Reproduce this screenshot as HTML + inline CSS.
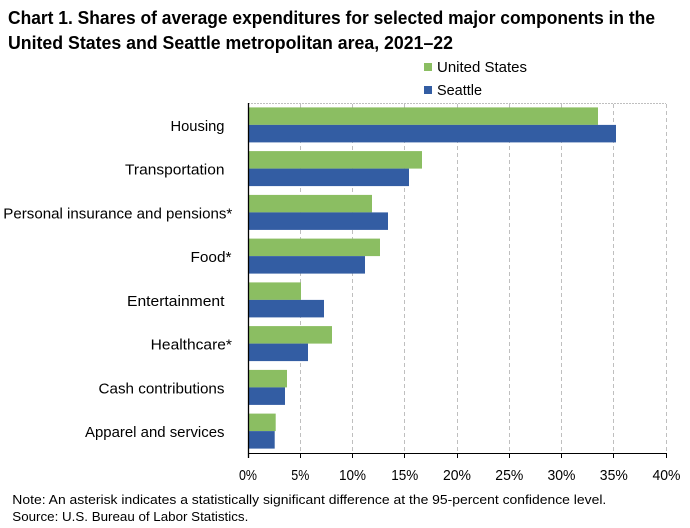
<!DOCTYPE html>
<html>
<head>
<meta charset="utf-8">
<style>
html,body{margin:0;padding:0;background:#fff;}
svg{display:block;}
text{font-family:"Liberation Sans",sans-serif;fill:#000;}
</style>
</head>
<body>
<svg width="690" height="528" viewBox="0 0 690 528" xmlns="http://www.w3.org/2000/svg">
<rect width="690" height="528" fill="#fff"/>
<!-- Title -->
<text x="8" y="24" font-size="18" font-weight="bold" textLength="647" lengthAdjust="spacingAndGlyphs">Chart 1. Shares of average expenditures for selected major components in the</text>
<text x="8" y="49" font-size="18" font-weight="bold" textLength="445" lengthAdjust="spacingAndGlyphs">United States and Seattle metropolitan area, 2021–22</text>
<!-- Legend -->
<rect x="424" y="63" width="8" height="8" fill="#8BBE62"/>
<text x="437" y="72" font-size="14.5" textLength="90" lengthAdjust="spacingAndGlyphs">United States</text>
<rect x="424" y="86" width="8" height="8" fill="#335DA3"/>
<text x="437" y="95" font-size="14.5" textLength="45" lengthAdjust="spacingAndGlyphs">Seattle</text>
<!-- Top border -->
<line x1="248" y1="103.5" x2="666" y2="103.5" stroke="#bfbfbf" stroke-width="1" stroke-dasharray="2,1"/>
<!-- Gridlines -->
<g stroke="#bfbfbf" stroke-width="1" stroke-dasharray="4,3">
<line x1="300.5" y1="104" x2="300.5" y2="453"/>
<line x1="352.5" y1="104" x2="352.5" y2="453"/>
<line x1="404.5" y1="104" x2="404.5" y2="453"/>
<line x1="457.5" y1="104" x2="457.5" y2="453"/>
<line x1="509.5" y1="104" x2="509.5" y2="453"/>
<line x1="561.5" y1="104" x2="561.5" y2="453"/>
<line x1="613.5" y1="104" x2="613.5" y2="453"/>
<line x1="666.5" y1="104" x2="666.5" y2="453"/>
</g>
<!-- Bars -->
<g>
<rect x="248" y="107.4" width="350" height="17.5" fill="#8BBE62"/>
<rect x="248" y="124.9" width="368" height="17.5" fill="#335DA3"/>
<rect x="248" y="151.1" width="174" height="17.5" fill="#8BBE62"/>
<rect x="248" y="168.6" width="161" height="17.5" fill="#335DA3"/>
<rect x="248" y="194.9" width="124" height="17.5" fill="#8BBE62"/>
<rect x="248" y="212.4" width="140" height="17.5" fill="#335DA3"/>
<rect x="248" y="238.6" width="132" height="17.5" fill="#8BBE62"/>
<rect x="248" y="256.1" width="117" height="17.5" fill="#335DA3"/>
<rect x="248" y="282.4" width="53" height="17.5" fill="#8BBE62"/>
<rect x="248" y="299.9" width="76" height="17.5" fill="#335DA3"/>
<rect x="248" y="326.1" width="84" height="17.5" fill="#8BBE62"/>
<rect x="248" y="343.6" width="60" height="17.5" fill="#335DA3"/>
<rect x="248" y="369.9" width="39" height="17.5" fill="#8BBE62"/>
<rect x="248" y="387.4" width="37" height="17.5" fill="#335DA3"/>
<rect x="248" y="413.6" width="27.7" height="17.5" fill="#8BBE62"/>
<rect x="248" y="431.1" width="26.7" height="17.5" fill="#335DA3"/>
</g>
<!-- Axes -->
<line x1="248" y1="453.5" x2="667" y2="453.5" stroke="#000" stroke-width="1"/>
<line x1="248.5" y1="103" x2="248.5" y2="458" stroke="#000" stroke-width="1.3"/>
<g stroke="#000" stroke-width="1">
<line x1="300.5" y1="453" x2="300.5" y2="458"/>
<line x1="352.5" y1="453" x2="352.5" y2="458"/>
<line x1="404.5" y1="453" x2="404.5" y2="458"/>
<line x1="457.5" y1="453" x2="457.5" y2="458"/>
<line x1="509.5" y1="453" x2="509.5" y2="458"/>
<line x1="561.5" y1="453" x2="561.5" y2="458"/>
<line x1="613.5" y1="453" x2="613.5" y2="458"/>
<line x1="666.5" y1="453" x2="666.5" y2="458"/>
</g>
<!-- Category labels -->
<g font-size="15" text-anchor="end">
<text x="224.5" y="131" textLength="54" lengthAdjust="spacingAndGlyphs">Housing</text>
<text x="224.5" y="174.6" textLength="99.5" lengthAdjust="spacingAndGlyphs">Transportation</text>
<text x="232.3" y="218.4" textLength="229" lengthAdjust="spacingAndGlyphs">Personal insurance and pensions*</text>
<text x="231.5" y="262.1" textLength="41" lengthAdjust="spacingAndGlyphs">Food*</text>
<text x="224.5" y="305.9" textLength="97.5" lengthAdjust="spacingAndGlyphs">Entertainment</text>
<text x="232" y="349.6" textLength="81.3" lengthAdjust="spacingAndGlyphs">Healthcare*</text>
<text x="224.5" y="393.4" textLength="126" lengthAdjust="spacingAndGlyphs">Cash contributions</text>
<text x="224.5" y="437.1" textLength="139.5" lengthAdjust="spacingAndGlyphs">Apparel and services</text>
</g>
<!-- X tick labels -->
<g font-size="15" text-anchor="middle">
<text x="248" y="480" textLength="18" lengthAdjust="spacingAndGlyphs">0%</text>
<text x="300.3" y="480" textLength="18" lengthAdjust="spacingAndGlyphs">5%</text>
<text x="352.5" y="480" textLength="27" lengthAdjust="spacingAndGlyphs">10%</text>
<text x="404.8" y="480" textLength="27" lengthAdjust="spacingAndGlyphs">15%</text>
<text x="457" y="480" textLength="28" lengthAdjust="spacingAndGlyphs">20%</text>
<text x="509.3" y="480" textLength="28" lengthAdjust="spacingAndGlyphs">25%</text>
<text x="561.5" y="480" textLength="28" lengthAdjust="spacingAndGlyphs">30%</text>
<text x="613.8" y="480" textLength="28" lengthAdjust="spacingAndGlyphs">35%</text>
<text x="666.5" y="480" textLength="28" lengthAdjust="spacingAndGlyphs">40%</text>
</g>
<!-- Notes -->
<text x="12.3" y="504" font-size="13" textLength="594" lengthAdjust="spacingAndGlyphs">Note: An asterisk indicates a statistically significant difference at the 95-percent  confidence level.</text>
<text x="12.3" y="521" font-size="13" textLength="236" lengthAdjust="spacingAndGlyphs">Source: U.S. Bureau of Labor Statistics.</text>
</svg>
</body>
</html>
